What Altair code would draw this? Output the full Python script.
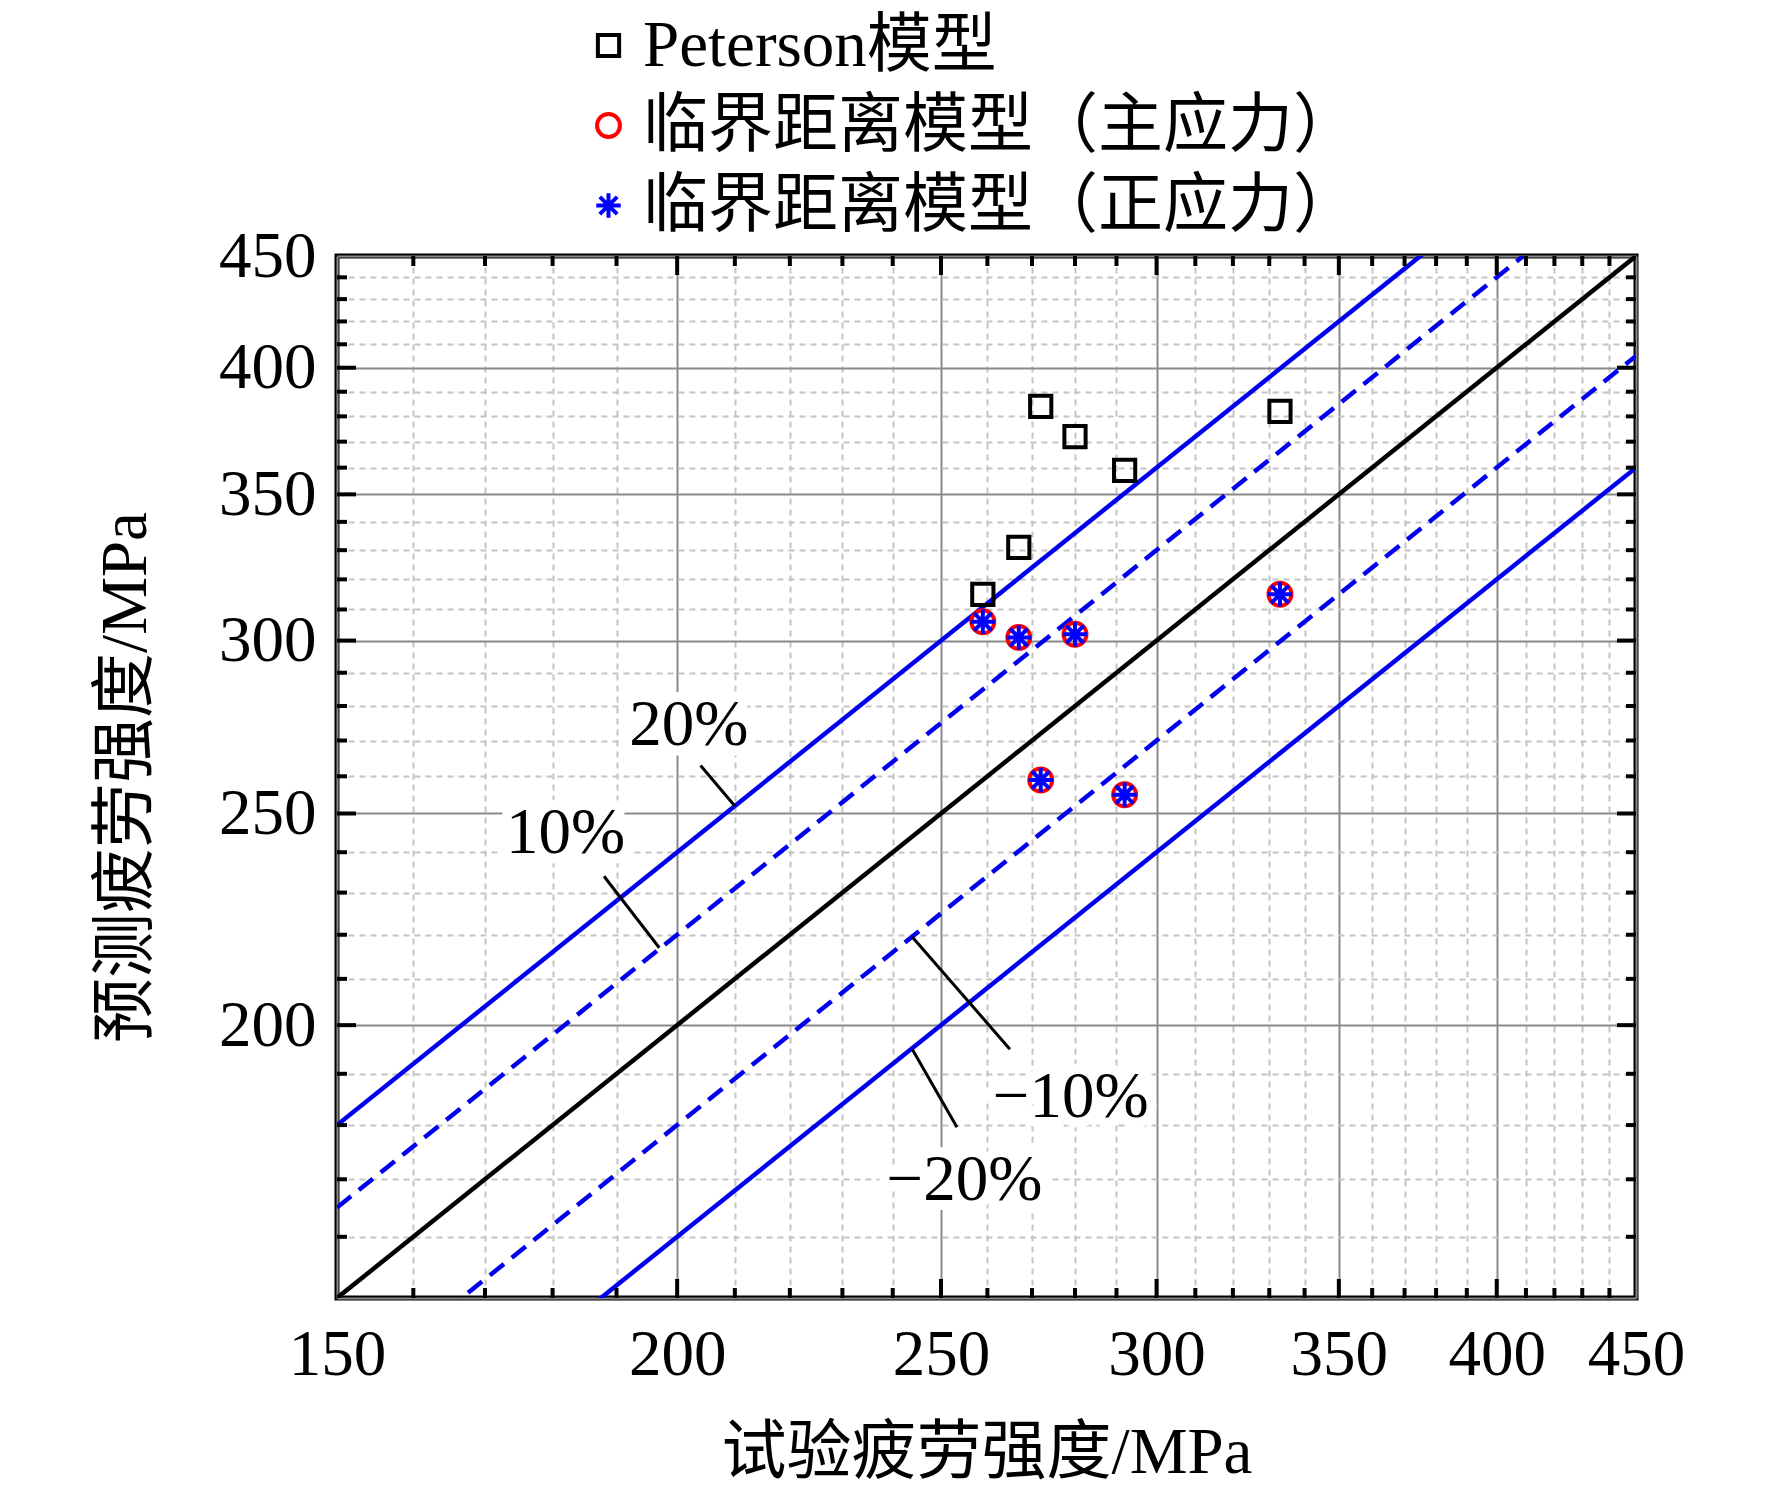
import altair as alt
import pandas as pd

# ---------------- data ----------------
series_names = ["Peterson模型", "临界距离模型（主应力）", "临界距离模型（正应力）"]
exp_strength = [259, 267, 272, 280, 292, 333]
pred_peterson = [315, 331, 384, 372, 359, 382]
pred_tcd_principal = [306, 301, 259, 302, 255, 315]
pred_tcd_normal = [306, 301, 259, 302, 255, 315]

band_factors_solid_black = [1.0]
band_factors_solid_blue = [1.2, 0.8]
band_factors_dashed_blue = [1.1, 0.9]
band_x_ends = [150, 450]

ann_text = ["20%", "10%", "−10%", "−20%"]
ann_x = [202, 182, 279, 255]
ann_y = [268.7, 239.8, 181.5, 166.4]
lead_x1 = [204, 188, 244, 244]
lead_y1 = [263, 234, 219.5, 195]
lead_x2 = [210, 197, 265, 253.4]
lead_y2 = [252, 217, 195, 179.6]

major_ticks = [150, 200, 250, 300, 350, 400, 450]
minor_ticks = [v for v in range(160, 450, 10) if v not in major_ticks]
all_ticks = sorted(major_ticks + minor_ticks)

# ---------------- layout / style ----------------
W, H = 1299, 1042
FONT = "Liberation Serif, Noto Sans CJK SC"
FS = 65
xs = alt.Scale(type="log", domain=[150, 450], nice=False, zero=False)
ys = alt.Scale(type="log", domain=[150, 450], nice=False, zero=False)

is_major = "datum.value % 50 == 0"
grid_dash = {"condition": {"test": is_major, "value": []}, "value": [6, 5]}
grid_color = {"condition": {"test": is_major, "value": "#8a8a8a"}, "value": "#c4c4c4"}

x_axis = alt.Axis(
    values=all_ticks, grid=True, gridDash=grid_dash, gridColor=grid_color, gridWidth=2,
    ticks=False, tickSize=0, domain=False, format="d",
    labelExpr="datum.value % 50 == 0 ? datum.label : ''",
    labelFont=FONT, labelFontSize=FS, labelColor="black", labelPadding=25,
    labelFlush=False, labelOverlap=False, labelBound=False,
    title="试验疲劳强度/MPa", titleFont=FONT, titleFontSize=FS,
    titleFontWeight="normal", titleColor="black", titlePadding=34,
)
y_axis = alt.Axis(
    values=all_ticks, grid=True, gridDash=grid_dash, gridColor=grid_color, gridWidth=2,
    ticks=False, tickSize=0, domain=False, format="d",
    labelExpr="datum.value % 50 == 0 && datum.value > 150 ? datum.label : ''",
    labelFont=FONT, labelFontSize=FS, labelColor="black", labelPadding=21,
    labelFlush=False, labelOverlap=False, labelBound=False,
    title="预测疲劳强度/MPa", titleFont=FONT, titleFontSize=FS,
    titleFontWeight="normal", titleColor="black", titlePadding=59,
)


def X(field, **kw):
    return alt.X(field, scale=xs, axis=x_axis, **kw)


def Y(field, **kw):
    return alt.Y(field, scale=ys, axis=y_axis, **kw)


# ---------------- points ----------------
rows = []
for s, vals in zip(series_names, [pred_peterson, pred_tcd_principal, pred_tcd_normal]):
    for xv, yv in zip(exp_strength, vals):
        rows.append({"series": s, "exp": xv, "pred": yv})
pts = pd.DataFrame(rows)

star_path = "M-1,0L1,0M0,-1L0,1M-0.71,-0.71L0.71,0.71M-0.71,0.71L0.71,-0.71"
legend = alt.Legend(
    title=None, orient="none", legendX=239, legendY=-243, direction="vertical",
    labelFont=FONT, labelFontSize=FS, labelColor="black", labelLimit=0,
    symbolStrokeWidth=4, rowPadding=14, labelOffset=2, padding=0,
)
points = alt.Chart(pts).mark_point(filled=False, opacity=1, strokeWidth=4).encode(
    x=X("exp:Q"),
    y=Y("pred:Q"),
    shape=alt.Shape("series:N", scale=alt.Scale(domain=series_names,
                    range=["square", "circle", star_path]), legend=legend),
    stroke=alt.Stroke("series:N", scale=alt.Scale(domain=series_names,
                      range=["#000000", "#ff0000", "#0000ff"]), legend=legend),
    size=alt.Size("series:N", scale=alt.Scale(domain=series_names,
                  range=[450, 600, 380]), legend=legend),
)

# ---------------- reference lines ----------------
def band_df(factors):
    return pd.DataFrame([{"k": k, "x": xv, "y": k * xv} for k in factors for xv in band_x_ends])


def band_layer(factors, color, width, dash=None):
    kw = dict(color=color, strokeWidth=width, clip=True)
    if dash:
        kw["strokeDash"] = dash
    return alt.Chart(band_df(factors)).mark_line(**kw).encode(
        x=X("x:Q"), y=Y("y:Q"), detail="k:N",
    )


line_black = band_layer(band_factors_solid_black, "black", 4.5)
line_blue = band_layer(band_factors_solid_blue, "#0000ee", 4.5)
line_blue_dash = band_layer(band_factors_dashed_blue, "#0000ee", 4.5, [18, 10])

# ---------------- annotations ----------------
ann = pd.DataFrame({"t": ann_text, "x": ann_x, "y": ann_y})
halo = alt.Chart(ann).mark_text(
    font=FONT, fontSize=FS, align="center", baseline="alphabetic",
    fill="white", stroke="white", strokeWidth=20, strokeJoin="round",
).encode(x=X("x:Q"), y=Y("y:Q"), text="t:N")
texts = alt.Chart(ann).mark_text(
    font=FONT, fontSize=FS, align="center", baseline="alphabetic", color="black",
).encode(x=X("x:Q"), y=Y("y:Q"), text="t:N")

lead = pd.DataFrame({"x1": lead_x1, "y1": lead_y1, "x2": lead_x2, "y2": lead_y2})
leaders = alt.Chart(lead).mark_rule(color="black", strokeWidth=3).encode(
    x=X("x1:Q"), y=Y("y1:Q"), x2="x2:Q", y2="y2:Q",
)

# ---------------- inward ticks ----------------
def tick_layers(vals, length):
    df = pd.DataFrame({"v": vals})
    m = alt.Chart(df).mark_rule(color="black", strokeWidth=4)
    return [
        m.encode(x=X("v:Q"), y=alt.value(H), y2=alt.value(H - length)),
        m.encode(x=X("v:Q"), y=alt.value(0), y2=alt.value(length)),
        m.encode(y=Y("v:Q"), x=alt.value(0), x2=alt.value(length)),
        m.encode(y=Y("v:Q"), x=alt.value(W), x2=alt.value(W - length)),
    ]


ticks = tick_layers(minor_ticks, 10) + tick_layers(major_ticks[1:-1], 19)

chart = alt.layer(
    halo, line_black, line_blue, line_blue_dash, leaders, texts, *ticks, points,
).properties(
    width=W, height=H,
    autosize=alt.AutoSizeParams(type="none"),
    padding={"left": 329, "top": 248, "right": 128, "bottom": 188},
).configure_view(stroke="black", strokeWidth=5)

chart.save("out.html", embed_options={"renderer": "svg", "actions": False})
